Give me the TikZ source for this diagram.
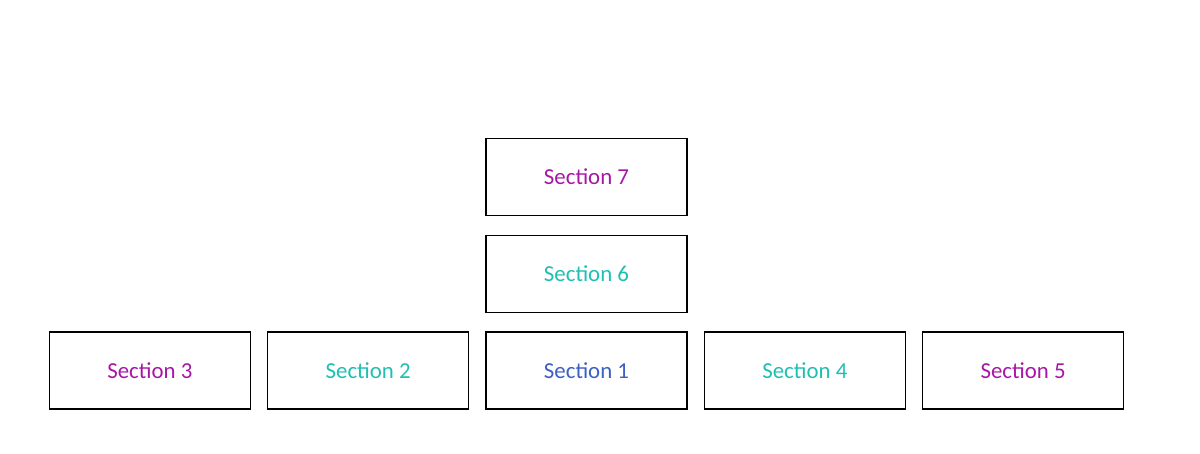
\documentclass[tikz,border=0pt]{standalone}
\usepackage{fontspec}
\setmainfont{Carlito}
\usetikzlibrary{positioning}

\definecolor{secmagenta}{HTML}{A617A6}
\definecolor{secteal}{HTML}{1FBFB2}
\definecolor{secblue}{HTML}{3C5FC4}

\tikzset{
	secbox/.style={draw=black, line width=0.75pt, minimum width=4.02cm, minimum height=1.54cm, font=\fontsize{13}{15}\selectfont},
}

\begin{document}
\begin{tikzpicture}

	\useasboundingbox (0, 0) rectangle (24, 9.06);

	\node[secbox, text=secblue] (sec1) at (11.73, 1.65) {Section 1};
	\node[secbox, text=secteal, left=0.32cm of sec1] (sec2) {Section 2};
	\node[secbox, text=secmagenta, left=0.32cm of sec2] (sec3) {Section 3};
	\node[secbox, text=secteal, right=0.32cm of sec1] (sec4) {Section 4};
	\node[secbox, text=secmagenta, right=0.32cm of sec4] (sec5) {Section 5};

	\node[secbox, text=secteal, above=0.37cm of sec1] (sec6) {Section 6};
	\node[secbox, text=secmagenta, above=0.37cm of sec6] (sec7) {Section 7};

\end{tikzpicture}
\end{document}
